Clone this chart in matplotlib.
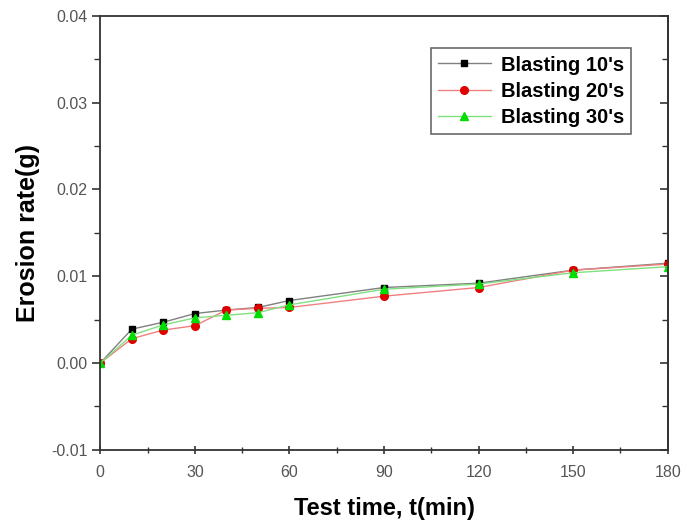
import matplotlib.pyplot as plt
import numpy as np

plt.rcParams['font.family'] = ['Liberation Sans', 'DejaVu Sans']

# test time (min)
t = [0, 10, 20, 30, 40, 50, 60, 90, 120, 150, 180]

# erosion rate (g)
blast10 = [0.0, 0.0039, 0.0047, 0.0057, 0.0061, 0.0064, 0.0072, 0.0087, 0.0092, 0.0107, 0.0115]
blast20 = [0.0, 0.0028, 0.0038, 0.0043, 0.0061, 0.0063, 0.0064, 0.0077, 0.0087, 0.0107, 0.0114]
blast30 = [0.0, 0.0032, 0.0044, 0.0052, 0.0055, 0.0058, 0.0067, 0.0085, 0.0091, 0.0104, 0.0111]

fig = plt.figure(figsize=(6.87, 5.31), dpi=100)
ax = fig.add_axes([0.146, 0.153, 0.826, 0.817])

ax.plot(t, blast10, color='#808080', lw=1, marker='s', ms=5,
        mfc='black', mec='black', label="Blasting 10's")
ax.plot(t, blast20, color='#f08080', lw=1, marker='o', ms=5.5,
        mfc='#e00000', mec='#e00000', label="Blasting 20's")
ax.plot(t, blast30, color='#80e080', lw=1, marker='^', ms=6,
        mfc='#00dd00', mec='#00dd00', label="Blasting 30's")

ax.set_xlim(0, 180)
ax.set_ylim(-0.01, 0.04)
ax.set_xticks(np.arange(0, 181, 30))
ax.set_xticks(np.arange(15, 181, 30), minor=True)
yt = [-0.01, 0.0, 0.01, 0.02, 0.03, 0.04]
ymin = [-0.005, 0.005, 0.015, 0.025, 0.035]
ax.set_yticks(yt)
ax.set_yticks(ymin, minor=True)
ax.set_yticklabels(['-0.01', '0.00', '0.01', '0.02', '0.03', '0.04'])

for s in ax.spines.values():
    s.set_linewidth(1.3)
    s.set_color('#333333')

ax.tick_params(axis='both', which='major', labelsize=11.5, labelcolor='#555555',
               color='#333333', width=1.2, length=6)
ax.tick_params(axis='both', which='minor', color='#333333', width=1, length=4)
ax.tick_params(axis='x', which='both', direction='inout', pad=8)
ax.tick_params(axis='y', which='both', direction='out', pad=3)

# right axis: inward ticks, no labels
rax = ax.secondary_yaxis('right')
rax.set_yticks(yt)
rax.set_yticks(ymin, minor=True)
rax.tick_params(which='both', direction='in', labelright=False, color='#333333')
rax.tick_params(which='major', length=6, width=1.2)
rax.tick_params(which='minor', length=4, width=1)
rax.spines['right'].set_linewidth(1.3)
rax.spines['right'].set_color('#333333')

ax.set_xlabel('Test time, t(min)', fontsize=17, fontweight='bold', labelpad=12)
ax.set_ylabel('Erosion rate(g)', fontsize=18, fontweight='bold', labelpad=8)

leg = ax.legend(loc='upper right', bbox_to_anchor=(0.935, 0.925),
                prop={'weight': 'bold', 'size': 14.5}, fancybox=False,
                edgecolor='#444444', handlelength=2.6, borderpad=0.35,
                labelspacing=0.35, handletextpad=0.5, borderaxespad=0)
leg.get_frame().set_linewidth(1.2)

fig.savefig('out.png', dpi=100)
